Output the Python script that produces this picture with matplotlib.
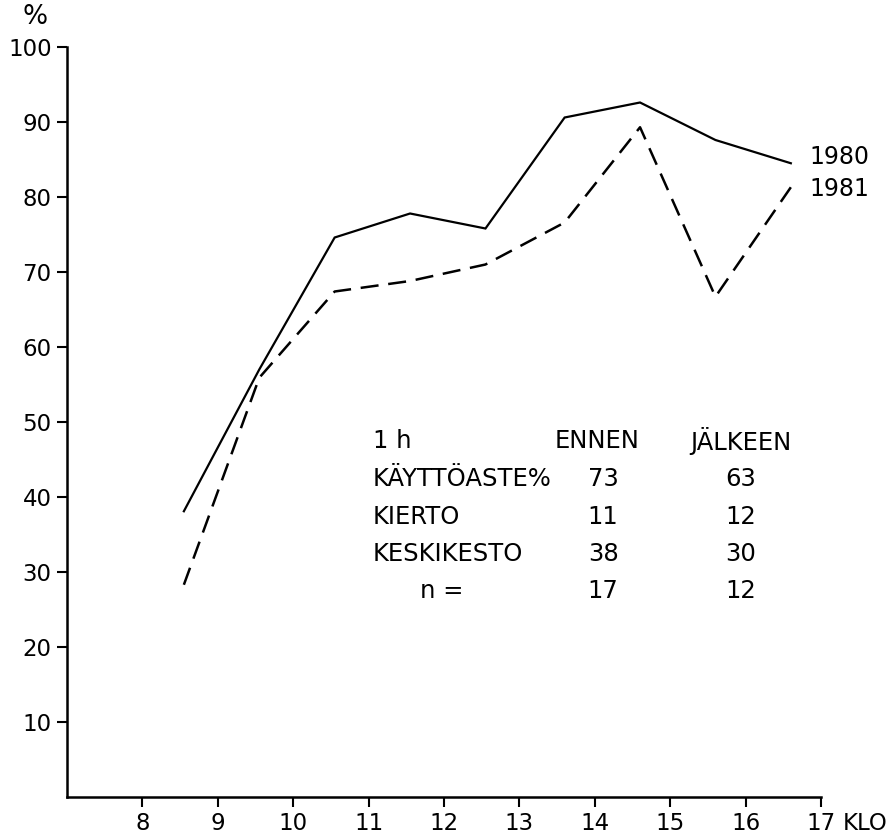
import matplotlib
matplotlib.use("Agg")
import matplotlib.pyplot as plt

# Data
hours_1980 = [8.55, 9.55, 10.55, 11.55, 12.55, 13.6, 14.6, 15.6, 16.6]
use_1980 = [38.1, 57.0, 74.6, 77.8, 75.8, 90.6, 92.6, 87.6, 84.5]
hours_1981 = [8.55, 9.55, 10.55, 11.55, 12.55, 13.6, 14.6, 15.6, 16.6]
use_1981 = [28.3, 55.9, 67.4, 68.8, 71.0, 76.6, 89.3, 66.7, 81.3]

x_ticks = [8, 9, 10, 11, 12, 13, 14, 15, 16, 17]
y_ticks = [10, 20, 30, 40, 50, 60, 70, 80, 90, 100]

table_header = ["1 h", "ENNEN", "JÄLKEEN"]
table_rows = ["KÄYTTÖASTE%", "KIERTO", "KESKIKESTO", "n ="]
table_ennen = ["73", "11", "38", "17"]
table_jalkeen = ["63", "12", "30", "12"]

plt.rcParams["font.family"] = ["DejaVu Sans"]
plt.rcParams["lines.scale_dashes"] = False

fig = plt.figure(figsize=(8.91, 8.36), dpi=100)
ax = fig.add_axes([67 / 891, 39 / 836, 754 / 891, 750 / 836])
ax.set_xlim(7, 17)
ax.set_ylim(0, 100)

ax.plot(hours_1980, use_1980, color="black", lw=1.6, solid_joinstyle="miter")
ax.plot(hours_1981, use_1981, color="black", lw=1.8, dashes=(13, 7))

for s in ["top", "right"]:
    ax.spines[s].set_visible(False)
for s in ["left", "bottom"]:
    ax.spines[s].set_linewidth(1.8)

ax.set_xticks(x_ticks)
ax.set_yticks(y_ticks)
ax.set_xticklabels([str(v) for v in x_ticks])
ax.set_yticklabels([str(v) for v in y_ticks])
ax.tick_params(axis="both", direction="out", length=7, width=1.5,
               labelsize=16.5, colors="black", pad=4)

ax.text(-0.042, 1.04, "%", transform=ax.transAxes, fontsize=19, ha="center", va="center")
ax.text(17.29, -3.5, "KLO", fontsize=16.5, ha="left", va="center", clip_on=False)

ax.text(16.85, 84.4, "1980", fontsize=17, ha="left", va="baseline")
ax.text(16.85, 80.1, "1981", fontsize=17, ha="left", va="baseline")

# table
fs = 17.5
row_y = [47.5, 42.4, 37.4, 32.4, 27.4]
ax.text(11.06, row_y[0], table_header[0], fontsize=fs, ha="left", va="center")
ax.text(14.03, row_y[0], table_header[1], fontsize=fs, ha="center", va="center")
ax.text(15.94, row_y[0], table_header[2], fontsize=fs, ha="center", va="center")
for i, lab in enumerate(table_rows):
    y = row_y[i + 1]
    if lab.startswith("n"):
        ax.text(11.97, y, lab, fontsize=fs, ha="center", va="center")
    else:
        ax.text(11.06, y, lab, fontsize=fs, ha="left", va="center")
    ax.text(14.11, y, table_ennen[i], fontsize=fs, ha="center", va="center")
    ax.text(15.94, y, table_jalkeen[i], fontsize=fs, ha="center", va="center")

fig.savefig("out.png", dpi=100)
